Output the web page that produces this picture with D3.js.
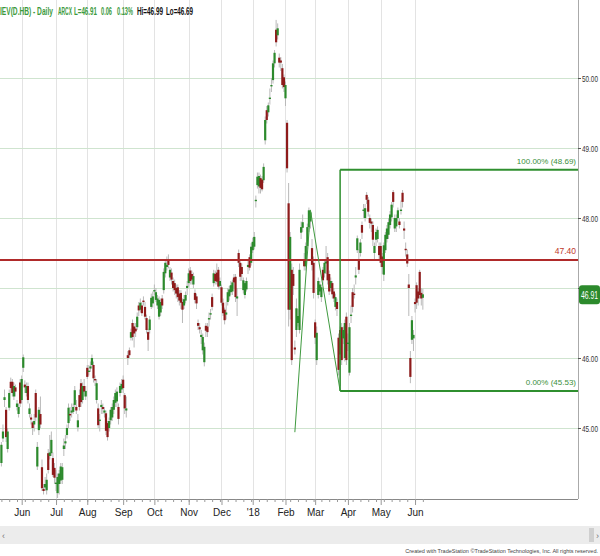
<!DOCTYPE html>
<html><head><meta charset="utf-8">
<script src="https://cdn.jsdelivr.net/npm/d3@7"></script>
<style>
body{margin:0;background:#fff;}
svg{display:block;font-family:"Liberation Sans Narrow","Arial Narrow","Liberation Sans",Arial,sans-serif;}
</style>
</head><body><svg id="c" width="600" height="556"></svg>
<script>
// ---- data (bar index 0 = first trading day of June 2017) ----
const startIndex = -13;
const opens = [
44.50,44.85,45.40,45.26,44.70,45.29,45.66,45.66,45.45,45.58,45.30,45.20,45.65,
45.40,45.86,45.62,45.50,45.60,45.20,45.15,45.08,45.05,45.50,
44.45,44.97,45.20,44.44,44.13,44.15,44.11,44.64,44.60,44.64,
44.57,44.43,44.20,44.07,44.20,44.25,44.26,44.70,44.78,44.90,
45.07,45.20,45.22,45.23,45.33,45.30,45.01,45.47,45.64,45.40,
45.60,45.45,45.86,45.80,45.85,45.90,45.90,45.70,45.40,45.28,
45.10,45.30,45.30,45.22,45.21,45.07,45.00,45.11,45.15,45.26,
45.36,45.38,45.30,45.50,45.55,45.69,45.47,45.25,46.04,46.11,
46.29,46.50,46.45,46.42,46.44,46.75,46.69,46.75,46.82,46.73,
46.57,46.37,46.40,46.73,46.78,46.95,46.83,46.75,46.59,46.65,
46.85,46.97,47.21,47.30,47.40,47.15,47.22,47.10,47.07,47.00,
47.01,46.92,46.93,46.80,46.75,46.82,47.00,47.07,47.25,47.20,
47.05,46.93,46.88,46.50,46.44,46.30,46.11,45.94,46.46,46.45,
46.55,46.62,46.87,47.07,47.20,47.22,47.26,47.03,47.01,46.79,
46.69,46.62,46.80,46.88,46.94,46.95,47.15,47.16,46.85,47.50,
47.36,47.30,46.97,46.90,46.98,47.30,47.44,47.36,47.54,47.59,
48.24,48.47,48.45,48.57,48.55,48.54,49.11,49.54,49.51,49.70,
49.88,49.97,50.21,50.69,50.61,50.29,50.25,50.14,50.01,49.71,
49.36,48.21,46.69,47.26,47.20,46.15,46.40,46.50,46.40,47.79,
47.86,47.40,47.31,47.60,47.87,47.95,47.57,47.36,46.51,45.97,
46.90,46.95,46.87,47.26,47.21,47.35,47.44,47.20,47.00,47.07,
46.95,46.73,46.80,46.29,46.40,46.44,46.28,46.00,46.59,46.20,
45.79,46.60,46.94,46.92,47.15,47.54,47.40,47.50,47.90,48.10,
48.00,48.33,48.26,48.00,47.95,47.90,47.50,47.69,47.70,47.60,
47.60,47.45,47.19,47.54,47.70,47.76,47.90,48.01,48.37,47.85,
47.88,48.00,47.95,48.10,48.36,47.85,47.56,47.48,47.05,46.00,
46.26,46.28,46.80,47.04,46.95,47.23,46.93,46.86];
const highs = [
44.80,45.05,45.55,45.30,45.00,45.55,45.72,45.70,45.65,45.62,45.40,45.35,45.70,
45.75,46.05,45.68,45.65,45.65,45.35,45.20,45.10,45.20,45.55,
44.80,45.30,45.45,44.55,44.20,44.30,44.35,44.70,44.90,44.95,
44.65,44.50,44.40,44.35,44.40,44.50,44.50,44.85,44.90,45.05,
45.35,45.30,45.35,45.35,45.60,45.40,45.20,45.55,45.70,45.65,
45.70,45.60,45.90,45.90,45.95,46.05,45.95,45.75,45.70,45.35,
45.20,45.40,45.35,45.30,45.25,45.10,45.15,45.30,45.35,45.45,
45.55,45.58,45.35,45.65,45.70,45.75,45.50,45.45,46.10,46.15,
46.42,46.55,46.50,46.50,46.65,46.80,46.85,46.80,46.88,46.80,
46.62,46.42,46.60,46.92,46.95,47.05,47.00,46.90,46.88,46.85,
46.90,47.28,47.40,47.45,47.48,47.30,47.28,47.15,47.12,47.05,
47.05,46.97,46.97,46.85,46.90,46.95,47.10,47.28,47.30,47.25,
47.22,46.98,46.92,46.55,46.50,46.40,46.35,46.22,46.50,46.50,
46.65,46.70,46.92,47.26,47.25,47.35,47.30,47.15,47.05,46.85,
46.72,46.80,47.00,47.03,47.10,47.12,47.20,47.20,47.00,47.55,
47.40,47.35,47.15,47.10,47.15,47.40,47.48,47.64,47.72,47.80,
48.32,48.65,48.65,48.62,48.60,48.78,49.45,49.60,49.65,49.85,
50.00,50.25,50.40,50.83,50.78,50.35,50.30,50.20,50.05,49.95,
49.40,48.50,47.80,47.35,47.30,46.25,46.85,46.70,47.35,47.95,
48.05,47.50,47.65,47.92,48.15,48.12,47.70,47.45,46.55,46.45,
47.15,47.10,47.05,47.30,47.40,47.60,47.50,47.25,47.15,47.10,
47.00,46.92,46.85,46.35,46.45,46.50,46.45,46.55,46.65,46.35,
46.50,46.75,47.00,47.05,47.30,47.75,47.55,47.70,47.95,48.20,
48.20,48.37,48.30,48.05,48.00,47.95,47.65,47.85,47.88,47.65,
47.65,47.50,47.65,47.80,47.90,48.00,48.10,48.23,48.40,48.05,
48.05,48.15,48.00,48.25,48.40,47.95,47.65,47.55,47.20,46.10,
46.60,46.40,46.85,47.08,47.00,47.26,47.00,46.99];
const lows = [
44.45,44.80,45.30,44.80,44.65,45.25,45.50,45.45,45.40,45.45,45.25,45.15,45.30,
45.35,45.80,45.50,45.45,45.35,45.15,45.05,44.90,44.95,45.10,
44.40,44.90,45.00,44.10,44.05,44.10,44.05,44.35,44.55,44.60,
44.30,44.20,44.10,44.00,44.05,44.20,44.20,44.60,44.70,44.85,
45.00,45.10,45.15,45.20,45.30,45.20,44.95,45.25,45.30,45.35,
45.45,45.40,45.70,45.75,45.80,45.85,45.65,45.60,45.35,45.00,
44.95,45.20,45.20,45.15,44.90,44.82,44.95,45.05,45.10,45.20,
45.30,45.30,45.05,45.45,45.50,45.50,45.20,45.15,45.90,46.00,
46.25,46.25,46.15,46.30,46.40,46.60,46.65,46.60,46.75,46.55,
46.35,46.10,46.35,46.70,46.72,46.90,46.80,46.70,46.55,46.60,
46.70,46.92,47.15,47.25,47.28,47.10,47.05,46.95,46.90,46.85,
46.80,46.75,46.70,46.50,46.70,46.78,46.90,47.02,47.05,47.05,
47.00,46.78,46.70,46.40,46.35,46.20,46.05,45.88,46.30,46.30,
46.45,46.55,46.68,47.02,47.05,47.05,46.98,46.98,46.75,46.60,
46.48,46.55,46.75,46.82,46.90,46.90,47.00,46.80,46.60,47.30,
47.10,47.10,46.92,46.85,46.95,47.20,47.25,47.32,47.50,47.55,
48.15,48.42,48.35,48.35,48.38,48.50,49.05,49.35,49.45,49.62,
49.80,49.92,50.15,50.45,50.55,50.15,50.10,49.85,49.80,49.60,
48.65,46.45,46.55,45.90,46.90,46.05,46.30,46.45,46.35,47.70,
47.80,47.25,47.25,47.55,47.80,47.85,47.25,46.85,46.20,45.90,
46.85,46.90,46.80,47.05,47.15,47.20,47.05,46.90,46.95,46.85,
46.80,46.68,46.60,45.75,45.60,45.90,46.20,45.95,45.90,46.10,
45.75,46.50,46.65,46.85,47.05,47.50,47.20,47.45,47.70,48.00,
47.95,48.20,48.02,47.85,47.80,47.60,47.40,47.60,47.65,47.40,
47.30,47.20,47.10,47.50,47.65,47.70,47.85,47.95,48.15,47.80,
47.80,47.95,47.85,48.05,48.15,47.70,47.45,47.30,46.60,45.64,
46.20,46.10,46.65,46.70,46.75,46.85,46.75,46.69];
const closes = [
44.76,44.95,45.44,44.87,44.95,45.50,45.57,45.50,45.60,45.52,45.35,45.30,45.35,
45.70,46.01,45.58,45.60,45.40,45.28,45.12,45.00,45.10,45.15,
44.73,45.26,45.05,44.14,44.10,44.20,44.26,44.40,44.65,44.83,
44.33,44.29,44.22,44.30,44.35,44.45,44.44,44.75,44.81,45.00,
45.29,45.18,45.25,45.30,45.54,45.25,45.11,45.30,45.37,45.60,
45.52,45.53,45.73,45.82,45.88,46.00,45.71,45.68,45.64,45.04,
45.12,45.33,45.27,45.25,44.96,44.87,45.10,45.26,45.30,45.40,
45.50,45.52,45.13,45.60,45.63,45.57,45.28,45.28,46.00,46.04,
46.37,46.30,46.35,46.38,46.59,46.68,46.79,46.64,46.80,46.59,
46.40,46.26,46.55,46.86,46.88,46.97,46.94,46.85,46.83,46.80,
46.75,47.23,47.36,47.33,47.33,47.26,47.12,47.00,46.97,46.92,
46.87,46.82,46.79,46.69,46.84,46.90,47.03,47.21,47.10,47.12,
47.17,46.83,46.78,46.46,46.41,46.33,46.30,46.16,46.39,46.37,
46.57,46.64,46.73,47.21,47.10,47.09,47.02,47.10,46.79,46.64,
46.54,46.65,46.94,46.98,47.04,47.08,47.08,46.87,46.88,47.36,
47.16,47.20,47.11,47.07,47.10,47.33,47.29,47.59,47.66,47.73,
48.26,48.59,48.60,48.43,48.41,48.73,49.40,49.40,49.61,49.72,
49.90,50.21,50.36,50.51,50.71,50.22,50.22,49.90,49.87,49.90,
48.71,46.69,47.73,45.97,47.03,46.12,46.71,46.60,47.26,47.87,
47.94,47.31,47.60,47.87,48.11,48.08,47.33,46.93,46.29,46.36,
47.10,47.05,47.01,47.11,47.36,47.38,47.11,46.95,47.10,46.91,
46.85,46.87,46.70,45.83,46.05,45.97,46.40,46.50,45.97,46.22,
46.44,46.62,46.73,46.90,47.18,47.71,47.26,47.65,47.79,48.12,
48.14,48.26,48.09,47.93,47.92,47.69,47.60,47.80,47.83,47.47,
47.36,47.30,47.61,47.76,47.85,47.94,48.05,48.19,48.23,48.00,
48.00,48.11,47.90,48.12,48.23,47.82,47.54,47.35,47.00,45.73,
46.54,46.33,46.77,46.79,46.85,46.90,46.85,46.91];

const monthLabels = ["Jun","Jul","Aug","Sep","Oct","Nov","Dec","'18","Feb","Mar","Apr","May","Jun"];
const monthStarts = [0,22,42,65,85,107,128,148,169,188,209,230,252];
const priceTicks = [45,46,47,48,49,50];
const resistanceLevel = 47.40;
const fibLevels = [48.69, 45.53];
const fibLabels = ["100.00% (48.69)", "0.00% (45.53)"];
const fibStartIndex = 204;
const zigzagIndex = [175, 185, 204];
const zigzagPrice = [44.94, 48.11, 45.53];
const lastPrice = 46.91;
const headerGreen = ["IEV(D.HB) - Daily", "ARCX", "L=46.91", "0.06", "0.13%"];
const headerBlack = ["Hi=46.99", "Lo=46.69"];

// ---- drawing ----
const W = 600, H = 556, plotR = 578, plotB = 499;
const svg = d3.select("#c");
const x = d3.scaleLinear().domain([-13.9, 356.4]).range([0, plotR]);
const y = d3.scaleLinear().domain([45, 50]).range([428, 78]);
const bars = closes.map((c, k) => ({i: startIndex + k, o: opens[k], h: highs[k], l: lows[k], c}));

const GREEN = "#2c8a2c", RED = "#8e1b1b";

// squeeze a text horizontally into a width, anchored at (x0, y0)
function squeeze(node, x0, y0, width) {
  const t = d3.select(node).attr("x", 0).attr("y", 0).attr("textLength", null);
  const w = node.getComputedTextLength();
  const s = Math.min(1, width / w);
  t.attr("transform", `translate(${x0},${y0}) scale(${s},1)`);
}

// grid
svg.append("g").selectAll("line").data(monthStarts).join("line")
  .attr("x1", d => Math.round(x(d)) + 0.5).attr("x2", d => Math.round(x(d)) + 0.5)
  .attr("y1", 0).attr("y2", plotB).attr("stroke", "#e3e3e3");
svg.append("g").selectAll("line").data(priceTicks).join("line")
  .attr("x1", 0).attr("x2", plotR).attr("y1", d => Math.round(y(d)) + 0.5).attr("y2", d => Math.round(y(d)) + 0.5)
  .attr("stroke", "#cfe4cf");

// candles
const cg = svg.append("g");
cg.selectAll("line").data(bars).join("line")
  .attr("x1", d => x(d.i)).attr("x2", d => x(d.i))
  .attr("y1", d => y(d.h)).attr("y2", d => y(d.l))
  .attr("stroke", "#b9b9b9").attr("stroke-width", 1);
cg.selectAll("rect").data(bars).join("rect")
  .attr("x", d => x(d.i) - 1.1).attr("width", 2.2)
  .attr("y", d => y(Math.max(d.o, d.c)))
  .attr("height", d => Math.max(1, Math.abs(y(d.o) - y(d.c))))
  .attr("fill", d => d.c >= d.o ? GREEN : RED);

// resistance line
svg.append("line").attr("x1", 0).attr("x2", plotR)
  .attr("y1", y(resistanceLevel)).attr("y2", y(resistanceLevel))
  .attr("stroke", "#b02a2a").attr("stroke-width", 2);
svg.append("text").attr("x", 576).attr("y", y(resistanceLevel) - 6)
  .attr("text-anchor", "end").attr("font-size", 8.5).attr("fill", "#c0392b").text(resistanceLevel.toFixed(2));

// zigzag
svg.append("path")
  .attr("d", d3.line()(zigzagIndex.map((v, k) => [x(v), y(zigzagPrice[k])])))
  .attr("fill", "none").attr("stroke", "#3f9a3f").attr("stroke-width", 1);

// fib box
svg.append("line").attr("x1", x(fibStartIndex)).attr("x2", x(fibStartIndex))
  .attr("y1", y(fibLevels[0])).attr("y2", y(fibLevels[1])).attr("stroke", "#2f8f2f").attr("stroke-width", 1.5);
svg.append("g").selectAll("line").data(fibLevels).join("line")
  .attr("x1", x(fibStartIndex)).attr("x2", plotR)
  .attr("y1", d => y(d)).attr("y2", d => y(d))
  .attr("stroke", "#2f8f2f").attr("stroke-width", 2);
svg.append("g").selectAll("text").data(fibLevels).join("text")
  .attr("x", 576).attr("y", d => y(d) - 6).attr("text-anchor", "end")
  .attr("font-size", 8).attr("fill", "#3a8f3a").text((d, k) => fibLabels[k]);

// frame
svg.append("line").attr("x1", plotR + 0.5).attr("x2", plotR + 0.5).attr("y1", 0).attr("y2", plotB)
  .attr("stroke", "#aaa");

// right axis (47.00 sits behind the last-price tag, as in the original)
const ya = svg.append("g").attr("transform", `translate(${plotR},0)`)
  .call(d3.axisRight(y).tickValues(priceTicks).tickFormat(d3.format(".2f")).tickSize(3).tickPadding(1));
ya.select(".domain").remove();
ya.selectAll("line").attr("stroke", "#555");
ya.selectAll("text").attr("font-size", 9.5).attr("fill", "#333").attr("font-family", "inherit").attr("dy", null)
  .each(function() { squeeze(this, 4, 3.5, 16); });

// last price tag
const ly = y(lastPrice);
svg.append("rect").attr("x", 579).attr("y", ly - 9).attr("width", 21).attr("height", 19)
  .attr("rx", 3).attr("fill", "#2c8a2c");
svg.append("text").attr("font-size", 10.5).attr("fill", "#fff").text(lastPrice.toFixed(2))
  .each(function() { squeeze(this, 581, ly + 4.5, 17); });

// bottom axis
svg.append("line").attr("x1", 0).attr("x2", plotR).attr("y1", plotB + 0.5).attr("y2", plotB + 0.5).attr("stroke", "#888");
const weekTicks = d3.range(startIndex, startIndex + closes.length, 5);
svg.append("g").attr("transform", `translate(0,${plotB})`)
  .call(d3.axisBottom(x).tickValues(weekTicks).tickFormat("").tickSize(3))
  .call(g => g.select(".domain").remove())
  .call(g => g.selectAll("line").attr("stroke", "#999"));
const xa = svg.append("g").attr("transform", `translate(0,${plotB})`)
  .call(d3.axisBottom(x).tickValues(monthStarts).tickFormat((d, k) => monthLabels[k]).tickSize(6).tickPadding(4));
xa.select(".domain").remove();
xa.selectAll("line").attr("stroke", "#999");
xa.selectAll("text").attr("font-size", 10).attr("fill", "#222").attr("font-family", "inherit");

// header
const hx = [0, 58, 74, 101, 117];
const hw = [53, 14, 23, 11, 16];
svg.append("g").selectAll("text").data(headerGreen).join("text")
  .attr("font-size", 10).attr("font-weight", "bold").attr("fill", "#3c9a3c").text(d => d)
  .each(function(d, k) { squeeze(this, hx[k], 15, hw[k]); });
const bx = [137, 166], bw = [26, 27];
svg.append("g").selectAll("text").data(headerBlack).join("text")
  .attr("font-size", 10).attr("font-weight", "bold").attr("fill", "#111").text(d => d)
  .each(function(d, k) { squeeze(this, bx[k], 15, bw[k]); });

// scrollbar + footer
svg.append("rect").attr("x", 0).attr("y", 526).attr("width", W).attr("height", 18).attr("fill", "#ececec");
svg.append("rect").attr("x", 589).attr("y", 528).attr("width", 5).attr("height", 14).attr("fill", "#cfcfcf");
svg.append("text").attr("x", 2).attr("y", 539).attr("font-size", 9).attr("fill", "#777").text("‹");
svg.append("text").attr("x", 596).attr("y", 539).attr("font-size", 9).attr("fill", "#777").text("›");
svg.append("text").attr("x", 598).attr("y", 553).attr("text-anchor", "end").attr("font-size", 5.5)
  .attr("fill", "#444").text("Created with TradeStation ©TradeStation Technologies, Inc. All rights reserved.");
</script>
</body></html>
